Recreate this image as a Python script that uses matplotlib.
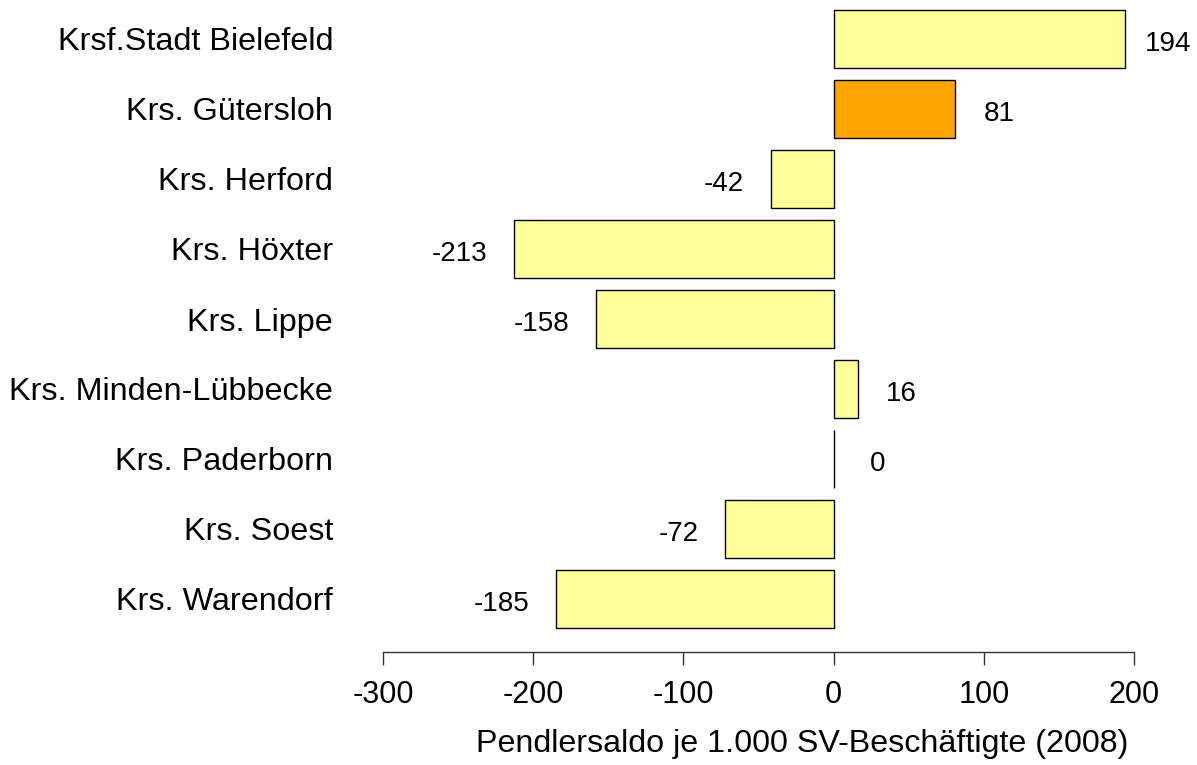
import matplotlib
matplotlib.use("Agg")
import matplotlib.pyplot as plt

plt.rcParams['font.family'] = ['Liberation Sans', 'DejaVu Sans']

regions = ["Krsf.Stadt Bielefeld", "Krs. Gütersloh", "Krs. Herford", "Krs. Höxter",
           "Krs. Lippe", "Krs. Minden-Lübbecke", "Krs. Paderborn", "Krs. Soest",
           "Krs. Warendorf"]
saldo = [194, 81, -42, -213, -158, 16, 0, -72, -185]
highlight = "Krs. Gütersloh"
xticks = [-300, -200, -100, 0, 100, 200]

W, H = 1197, 765
fig = plt.figure(figsize=(W / 100, H / 100), dpi=100)

# axes box in pixel terms: x from -300 to 200, bottom on the axis line
left_px, right_px, top_px, bottom_px = 383, 1134, 0, 652
ax = fig.add_axes([left_px / W, 1 - bottom_px / H,
                   (right_px - left_px) / W, (bottom_px - top_px) / H])

colors = ["#FFA500" if r == highlight else "#FFFF99" for r in regions]
ypos = list(range(len(regions)))
ax.barh(ypos, saldo, height=0.83, color=colors, edgecolor="black", linewidth=1.0)

step = 70.0
ax.set_ylim((bottom_px - 39) / step, -39 / step)
ax.set_xlim(-300, 200)

# value labels: negatives right-aligned left of the bar, positives centred to the right
for y, v in zip(ypos, saldo):
    if v < 0:
        ax.text(v - 17.5, y + 0.17, str(v), ha="right", va="baseline", fontsize=20, clip_on=False)
    else:
        ax.text(v + 29, y + 0.17, str(v), ha="center", va="baseline", fontsize=20, clip_on=False)

ax.set_yticks(ypos)
ax.set_yticklabels(regions, fontsize=23.3)
ax.tick_params(axis="y", length=0, pad=36)

ax.set_xticks(xticks)
ax.set_xticklabels([str(t) for t in xticks], fontsize=22)
ax.tick_params(axis="x", length=9.5, width=1, color="#333333", pad=10.5)

for s in ["top", "right", "left"]:
    ax.spines[s].set_visible(False)
ax.spines["bottom"].set_color("#333333")
ax.spines["bottom"].set_linewidth(1)

ax.set_xlabel("Pendlersaldo je 1.000 SV-Beschäftigte (2008)", fontsize=23.2)
ax.xaxis.set_label_coords((802 - left_px) / (right_px - left_px), -(752 - bottom_px) / (bottom_px - top_px))
ax.xaxis.label.set_va("baseline")

fig.savefig("out.png", dpi=100, facecolor="white")
